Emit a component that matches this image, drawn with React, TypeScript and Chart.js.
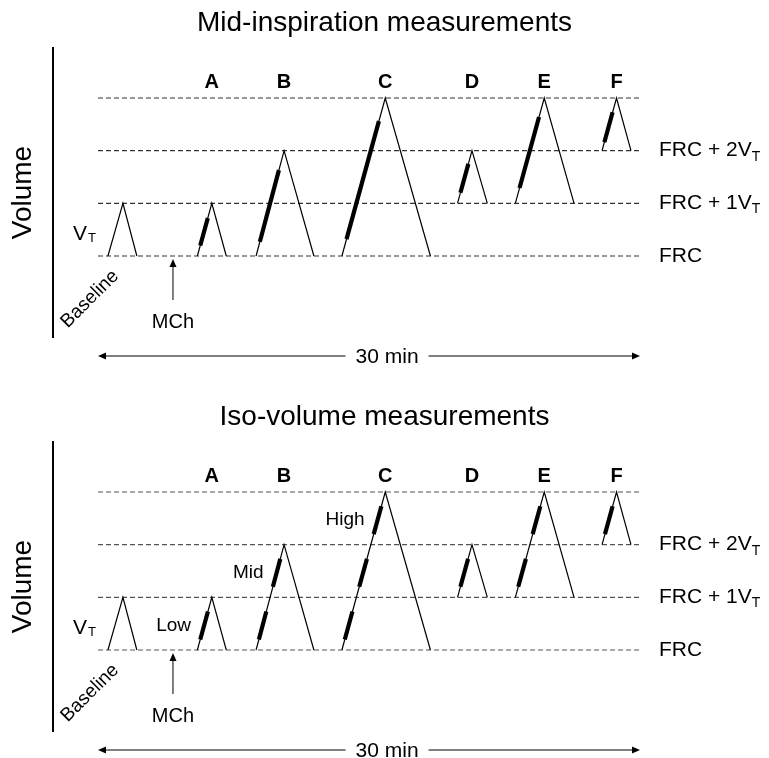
import React, { useEffect, useRef } from "react";
import { Chart, registerables } from "chart.js";
Chart.register(...registerables);

const FONT = '"Liberation Sans", Arial, Helvetica, sans-serif';

// ---- data ----
const panelTitles = ["Mid-inspiration measurements", "Iso-volume measurements"];
const levelValues = [0, 1, 2, 3];
const levelLabelMain = ["FRC", "FRC + 1V", "FRC + 2V"];
const levelLabelSub = ["", "T", "T"];
const breathLabels = ["", "A", "B", "C", "D", "E", "F"];
const breathStart = [0.55, 5.5, 8.75, 13.5, 19.9, 23.1, 27.9];
const breathPeak = [1.38, 6.3, 10.3, 15.9, 20.7, 24.7, 28.7];
const breathEnd = [2.15, 7.1, 11.95, 18.4, 21.55, 26.35, 29.5];
const breathFrom = [0, 0, 0, 0, 1, 1, 2];
const breathTo = [1, 1, 2, 3, 2, 3, 3];
const midThickFrom = [null, 0.2, 0.27, 0.32, 1.2, 1.29, 2.16];
const midThickTo = [null, 0.72, 1.63, 2.56, 1.75, 2.64, 2.73];
const isoBandLabels = ["Low", "Mid", "High"];
const isoBandFrom = [0.2, 1.2, 2.2];
const isoBandTo = [0.73, 1.73, 2.73];
const mchTime = 4.15;
const totalMinutes = 30;
const durationLabel = "30 min";
const durationLabelAt = 16;
const axisTitle = "Volume";
const tidalLabel = ["V", "T"];
const baselineLabel = "Baseline";
const mchLabel = "MCh";

const W = 769;
const PANEL_H = [394, 364];

function riseX(i: number, v: number) {
  return breathStart[i] + ((breathPeak[i] - breathStart[i]) * (v - breathFrom[i])) / (breathTo[i] - breathFrom[i]);
}

function thickSegments(mode: number): { i: number; a: number; b: number }[] {
  const segs: { i: number; a: number; b: number }[] = [];
  for (let i = 1; i < breathStart.length; i++) {
    if (mode === 0) {
      segs.push({ i, a: midThickFrom[i] as number, b: midThickTo[i] as number });
    } else {
      for (let k = 0; k < isoBandFrom.length; k++) {
        if (isoBandFrom[k] >= breathFrom[i] && isoBandTo[k] <= breathTo[i]) {
          segs.push({ i, a: isoBandFrom[k], b: isoBandTo[k] });
        }
      }
    }
  }
  return segs;
}

function makeChart(canvas: HTMLCanvasElement, mode: number) {
  const h = PANEL_H[mode];
  const unitY = 158 / 3;
  const yMin = -2;
  const yMax = 3.5;
  const padTop = 98 - (yMax - 3) * unitY;
  const padBottom = h - (256 + -yMin * unitY);
  const dashColor = mode === 0 ? "#333" : "#555";

  const datasets: any[] = [];
  thickSegments(mode).forEach((s) => {
    datasets.push({
      data: [
        { x: riseX(s.i, s.a), y: s.a },
        { x: riseX(s.i, s.b), y: s.b },
      ],
      borderColor: "#000",
      borderWidth: 4.2,
      borderCapStyle: "butt",
    });
  });
  breathStart.forEach((_, i) => {
    datasets.push({
      data: [
        { x: breathStart[i], y: breathFrom[i] },
        { x: breathPeak[i], y: breathTo[i] },
        { x: breathEnd[i], y: breathFrom[i] },
      ],
      borderColor: "#000",
      borderWidth: 1.2,
    });
  });
  levelValues.forEach((lv) => {
    datasets.push({
      data: [
        { x: 0, y: lv },
        { x: totalMinutes, y: lv },
      ],
      borderColor: dashColor,
      borderWidth: 1.2,
      borderDash: [5, 3],
    });
  });
  datasets.forEach((d) => {
    d.showLine = true;
    d.pointRadius = 0;
    d.fill = false;
    d.tension = 0;
    d.clip = false;
  });

  const annot = {
    id: "annot" + mode,
    afterDraw(chart: any) {
      const ctx = chart.ctx as CanvasRenderingContext2D;
      const X = (v: number) => chart.scales.x.getPixelForValue(v);
      const Y = (v: number) => chart.scales.y.getPixelForValue(v);
      ctx.save();
      ctx.fillStyle = "#000";
      ctx.strokeStyle = "#000";

      // title
      ctx.font = `28px ${FONT}`;
      ctx.textAlign = "center";
      ctx.textBaseline = "middle";
      ctx.fillText(panelTitles[mode], W / 2, Y(3) - 75);

      // vertical axis line
      const axX = X(0) - 45;
      ctx.lineWidth = 2;
      ctx.beginPath();
      ctx.moveTo(axX, Y(3) - 51);
      ctx.lineTo(axX, Y(0) + 82);
      ctx.stroke();

      // axis title
      ctx.save();
      ctx.translate(23, (Y(3) - 51 + Y(0) + 82) / 2);
      ctx.rotate(-Math.PI / 2);
      ctx.font = `28px ${FONT}`;
      ctx.fillText(axisTitle, 0, 0);
      ctx.restore();

      // breath letters
      ctx.font = `bold 20px ${FONT}`;
      breathLabels.forEach((l, i) => {
        if (l) ctx.fillText(l, X(breathPeak[i]), Y(3) - 16);
      });

      // level labels
      ctx.textAlign = "left";
      levelLabelMain.forEach((t, k) => {
        const lx = X(totalMinutes) + 19;
        const ly = Y(levelValues[k]);
        ctx.font = `21px ${FONT}`;
        ctx.fillText(t, lx, ly);
        if (levelLabelSub[k]) {
          const w = ctx.measureText(t).width;
          ctx.font = `14px ${FONT}`;
          ctx.fillText(levelLabelSub[k], lx + w, ly + 6);
        }
      });

      // V_T label
      ctx.font = `21px ${FONT}`;
      ctx.textAlign = "right";
      const vx = X(breathStart[0]) - 21;
      const vy = Y(0.42);
      ctx.fillText(tidalLabel[0], vx, vy);
      ctx.textAlign = "left";
      ctx.font = `13px ${FONT}`;
      ctx.fillText(tidalLabel[1], vx + 1, vy + 5);

      // Baseline label
      ctx.save();
      ctx.translate(X(breathStart[0]) - 18, Y(0) + 43);
      ctx.rotate(-Math.PI / 4);
      ctx.textAlign = "center";
      ctx.font = `19px ${FONT}`;
      ctx.fillText(baselineLabel, 0, 0);
      ctx.restore();

      // MCh arrow
      const mx = X(mchTime);
      const tipY = Y(0) + 3;
      ctx.lineWidth = 1;
      ctx.beginPath();
      ctx.moveTo(mx, Y(0) + 44);
      ctx.lineTo(mx, tipY + 5);
      ctx.stroke();
      ctx.beginPath();
      ctx.moveTo(mx, tipY);
      ctx.lineTo(mx - 3.5, tipY + 8);
      ctx.lineTo(mx + 3.5, tipY + 8);
      ctx.closePath();
      ctx.fill();
      ctx.font = `20px ${FONT}`;
      ctx.textAlign = "center";
      ctx.fillText(mchLabel, mx, Y(0) + 66);

      // iso band labels
      if (mode === 1) {
        ctx.font = `19px ${FONT}`;
        ctx.textAlign = "right";
        isoBandLabels.forEach((lab, k) => {
          let first = -1;
          for (let i = 1; i < breathStart.length; i++) {
            if (isoBandFrom[k] >= breathFrom[i] && isoBandTo[k] <= breathTo[i]) {
              first = i;
              break;
            }
          }
          const mid = (isoBandFrom[k] + isoBandTo[k]) / 2;
          ctx.fillText(lab, X(riseX(first, mid)) - 13, Y(mid));
        });
      }

      // duration arrow
      const dy = Y(0) + 100;
      ctx.font = `21px ${FONT}`;
      ctx.textAlign = "center";
      const tx = X(durationLabelAt);
      const tw = ctx.measureText(durationLabel).width;
      ctx.fillText(durationLabel, tx, dy + 1);
      ctx.lineWidth = 1;
      ctx.beginPath();
      ctx.moveTo(X(0) + 4, dy);
      ctx.lineTo(tx - tw / 2 - 10, dy);
      ctx.moveTo(tx + tw / 2 + 10, dy);
      ctx.lineTo(X(totalMinutes) - 4, dy);
      ctx.stroke();
      const x0 = X(0);
      const x1 = X(totalMinutes);
      ctx.beginPath();
      ctx.moveTo(x0, dy);
      ctx.lineTo(x0 + 8, dy - 3.5);
      ctx.lineTo(x0 + 8, dy + 3.5);
      ctx.closePath();
      ctx.fill();
      ctx.beginPath();
      ctx.moveTo(x1, dy);
      ctx.lineTo(x1 - 8, dy - 3.5);
      ctx.lineTo(x1 - 8, dy + 3.5);
      ctx.closePath();
      ctx.fill();

      ctx.restore();
    },
  };

  return new Chart(canvas, {
    type: "scatter",
    data: { datasets },
    options: {
      animation: false,
      responsive: false,
      devicePixelRatio: 1,
      layout: { padding: { left: 98, right: W - 640, top: padTop, bottom: padBottom } },
      plugins: { legend: { display: false }, title: { display: false }, tooltip: { enabled: false } },
      events: [],
      scales: {
        x: { type: "linear", min: 0, max: totalMinutes, display: false },
        y: { type: "linear", min: yMin, max: yMax, display: false },
      },
    },
    plugins: [annot],
  } as any);
}

export default function App() {
  const topRef = useRef<HTMLCanvasElement>(null);
  const botRef = useRef<HTMLCanvasElement>(null);
  useEffect(() => {
    const c1 = makeChart(topRef.current!, 0);
    const c2 = makeChart(botRef.current!, 1);
    return () => {
      c1.destroy();
      c2.destroy();
    };
  }, []);
  return (
    <div style={{ position: "fixed", left: 0, top: 0, width: W, height: 758, overflow: "hidden", background: "#fff" }}>
      <canvas ref={topRef} width={W} height={PANEL_H[0]} style={{ position: "absolute", left: 0, top: 0, width: W, height: PANEL_H[0] }} />
      <canvas ref={botRef} width={W} height={PANEL_H[1]} style={{ position: "absolute", left: 0, top: PANEL_H[0], width: W, height: PANEL_H[1] }} />
    </div>
  );
}
